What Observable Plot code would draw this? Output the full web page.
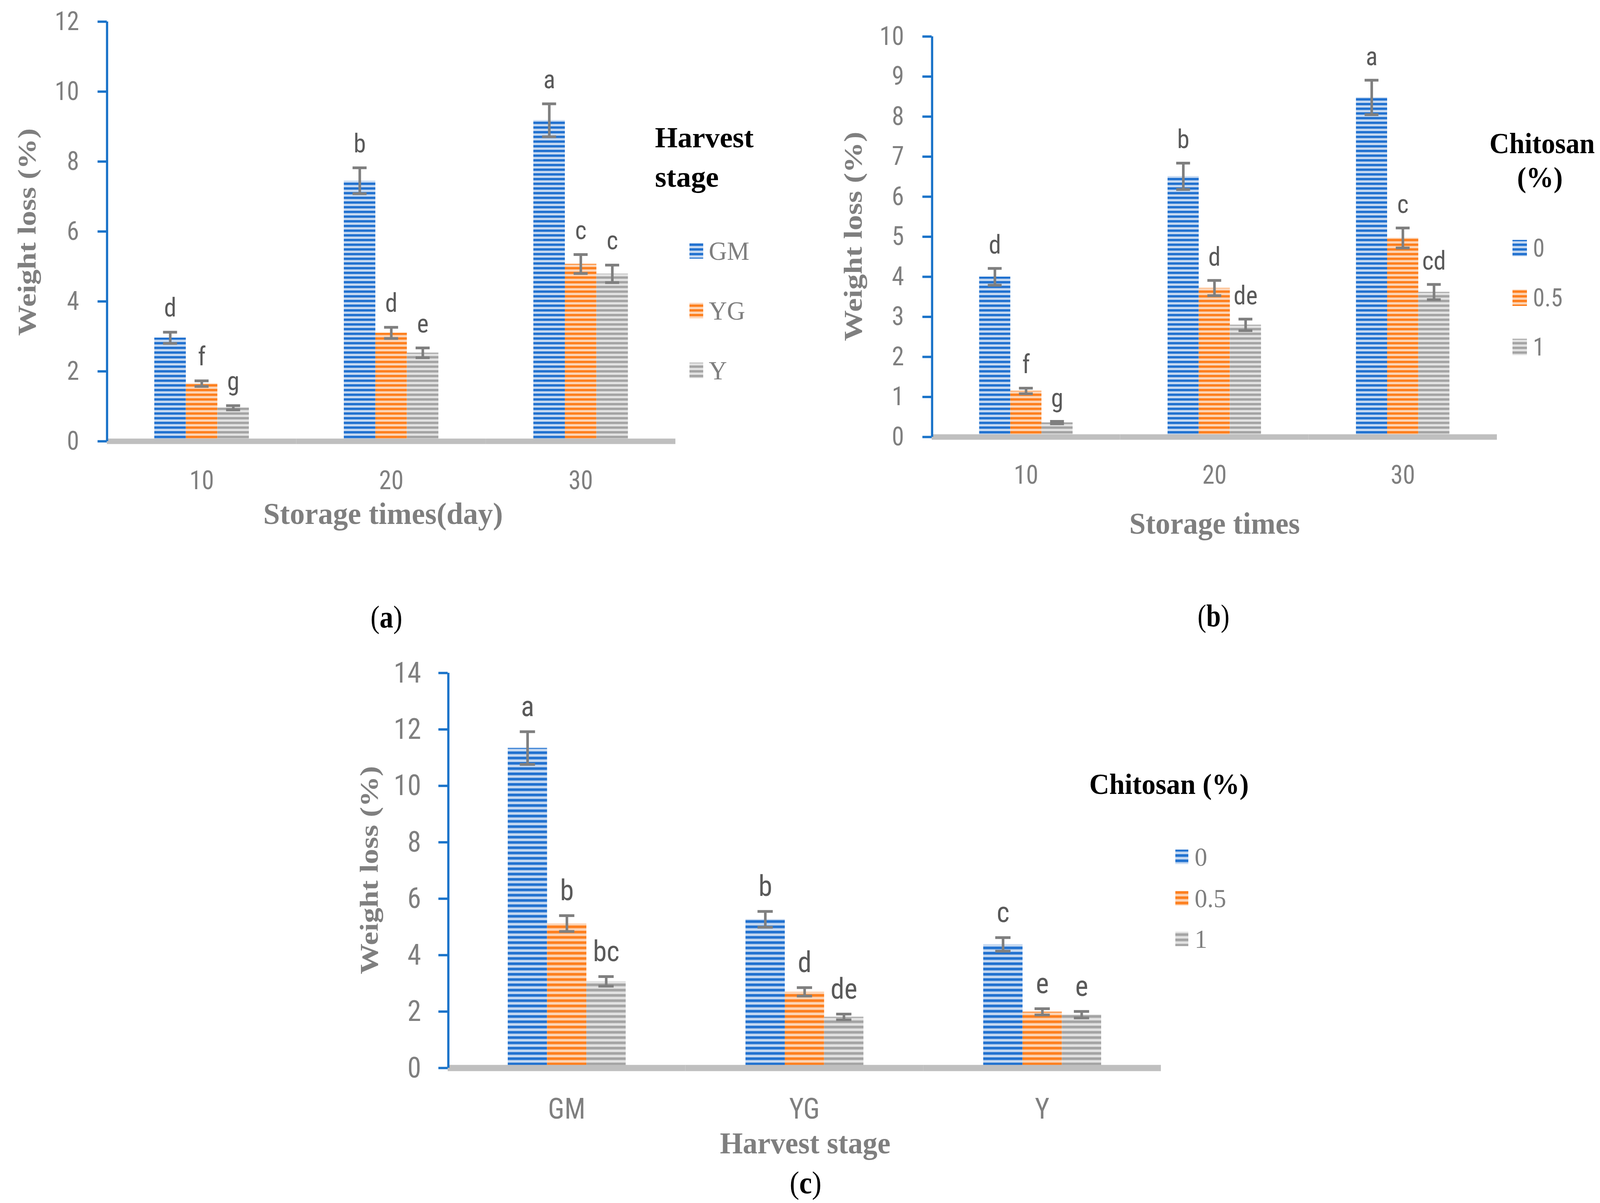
<!DOCTYPE html>
<html><head><meta charset="utf-8">
<script src="https://cdn.jsdelivr.net/npm/d3@7"></script>
<script src="https://cdn.jsdelivr.net/npm/@observablehq/plot@0.6"></script>
<style>
html,body{margin:0;padding:0;background:#fff;overflow:hidden;}
#wrap{position:relative;width:100vw;height:100vh;overflow:hidden;background:#fff;}
#page{position:absolute;left:0;top:0;width:4314px;height:3079px;background:#fff;transform-origin:0 0;}
#page > svg{position:absolute;}
</style></head><body><div id="wrap"><div id="page"></div></div>
<script>
// ---------- data ----------
const storageDays = ["10", "20", "30"];
const harvestStages = ["GM", "YG", "Y"];
const chitosanLevels = ["0", "0.5", "1"];

// (a) weight loss by storage time, per harvest stage
const a_GM = [2.96, 7.45, 9.18];
const a_GM_err = [0.16, 0.37, 0.47];
const a_GM_sig = ["d", "b", "a"];
const a_YG = [1.65, 3.10, 5.07];
const a_YG_err = [0.08, 0.16, 0.27];
const a_YG_sig = ["f", "d", "c"];
const a_Y = [0.96, 2.53, 4.79];
const a_Y_err = [0.06, 0.14, 0.25];
const a_Y_sig = ["g", "e", "c"];

// (b) weight loss by storage time, per chitosan level
const b_0 = [4.00, 6.51, 8.48];
const b_0_err = [0.21, 0.33, 0.43];
const b_0_sig = ["d", "b", "a"];
const b_05 = [1.15, 3.72, 4.97];
const b_05_err = [0.07, 0.19, 0.25];
const b_05_sig = ["f", "d", "c"];
const b_1 = [0.36, 2.80, 3.62];
const b_1_err = [0.03, 0.145, 0.19];
const b_1_sig = ["g", "de", "cd"];

// (c) weight loss by harvest stage, per chitosan level
const c_0 = [11.34, 5.27, 4.38];
const c_0_err = [0.58, 0.28, 0.24];
const c_0_sig = ["a", "b", "c"];
const c_05 = [5.12, 2.70, 1.99];
const c_05_err = [0.28, 0.15, 0.11];
const c_05_sig = ["b", "d", "e"];
const c_1 = [3.07, 1.81, 1.89];
const c_1_err = [0.17, 0.10, 0.115];
const c_1_sig = ["bc", "de", "e"];

const ticksA = [0, 2, 4, 6, 8, 10, 12];
const ticksB = [0, 1, 2, 3, 4, 5, 6, 7, 8, 9, 10];
const ticksC = [0, 2, 4, 6, 8, 10, 12, 14];

// ---------- styling ----------
const SANS = "'Liberation Sans Narrow','Arial Narrow','Roboto Condensed',Lato,sans-serif";
const SERIF = "'Liberation Serif','Times New Roman',serif";
const AXIS_BLUE = "#1a73c9";
const GRAY = "#7f7f7f";
const LABEL = "#595959";
const stripeColors = [
  {id: "blue", dark: "#1f70cf", light: "#c9dbf2"},
  {id: "orange", dark: "#fd7e1c", light: "#fdd6b8"},
  {id: "gray", dark: "#a3a3a3", light: "#e3e3e3"}
];

const page = document.getElementById("page");
// fit the 4314x3079 layout into the actual viewport
const sx = Math.min(1, window.innerWidth / 4314);
const sy = Math.min(1, window.innerHeight / 3079);
page.style.transform = `scale(${sx}, ${sy})`;

const overlay = d3.create("svg")
  .attr("width", 4314).attr("height", 3079)
  .style("left", "0px").style("top", "0px").style("z-index", 5)
  .style("pointer-events", "none");
const defs = overlay.append("defs");
function makePatterns(suffix, period) {
  for (const c of stripeColors) {
    const gid = `g-${c.id}${suffix}`;
    const g = defs.append("linearGradient").attr("id", gid)
      .attr("x1", 0).attr("y1", 0).attr("x2", 0).attr("y2", 1);
    [[0, c.dark], [0.36, c.dark], [0.55, c.light], [0.88, c.light], [1, c.dark]]
      .forEach(([o, col]) => g.append("stop").attr("offset", o).attr("stop-color", col));
    const p = defs.append("pattern").attr("id", `p-${c.id}${suffix}`)
      .attr("patternUnits", "userSpaceOnUse").attr("width", 50).attr("height", period);
    p.append("rect").attr("width", 50).attr("height", period).attr("fill", `url(#${gid})`);
  }
}
makePatterns("", 12);
makePatterns("c", 13.5);
page.appendChild(overlay.node());

function rows(groups, names, vals, errs, sigs) {
  const out = [];
  groups.forEach((g, i) => names.forEach((n, j) => {
    out.push({group: g, series: n, value: vals[j][i], err: errs[j][i], sig: sigs[j][i]});
  }));
  return out;
}

function panel(cfg) {
  const fw = cfg.width - cfg.ml - cfg.mr;
  const bw = fw / cfg.groups.length / 6;   // bar width: 3 bars fill half of each group band
  const inset = (bw - cfg.capW) / 2;
  const sfx = cfg.suffix || "";
  const svg = Plot.plot({
    width: cfg.width, height: cfg.height,
    marginLeft: cfg.ml, marginRight: cfg.mr, marginTop: cfg.mt, marginBottom: cfg.mb,
    style: {fontFamily: SANS, fontSize: cfg.fs + "px", background: "transparent", overflow: "visible"},
    fx: {domain: cfg.groups, padding: 0, axis: null},
    x: {domain: cfg.names, paddingInner: 0, paddingOuter: 1.5, axis: null},
    y: {domain: [0, cfg.ymax], axis: null},
    color: {domain: cfg.names, range: ["blue", "orange", "gray"].map(c => `url(#p-${c}${sfx})`)},
    marks: [
      Plot.barY(cfg.data, {fx: "group", x: "series", y: "value", fill: "series"}),
      Plot.ruleY([0], {stroke: "#bfbfbf", strokeWidth: cfg.baseW}),
      Plot.ruleX(cfg.data, {fx: "group", x: "series", y1: d => d.value - d.err, y2: d => d.value + d.err, stroke: GRAY, strokeWidth: 7}),
      Plot.tickY(cfg.data, {fx: "group", x: "series", y: d => d.value - d.err, stroke: GRAY, strokeWidth: 7, inset}),
      Plot.tickY(cfg.data, {fx: "group", x: "series", y: d => d.value + d.err, stroke: GRAY, strokeWidth: 7, inset}),
      Plot.text(cfg.data, {fx: "group", x: "series", y: d => d.value + d.err, text: "sig", dy: -cfg.sigGap, lineAnchor: "bottom", fontSize: cfg.fs, fill: LABEL}),
      // vertical axis line, in the first group only, at the left edge of the frame
      Plot.ruleX([cfg.groups[0]], {fx: d => d, x: () => cfg.names[0], y1: 0, y2: cfg.ymax, dx: -2 * bw, stroke: AXIS_BLUE, strokeWidth: 6}),
      Plot.axisY({ticks: cfg.yticks, tickFormat: d => String(d), tickSize: 25, tickPadding: cfg.tickPad, stroke: AXIS_BLUE, strokeWidth: 6, fill: GRAY, fontSize: cfg.fs, label: null}),
      Plot.axisFx({anchor: "bottom", tickSize: 0, tickPadding: cfg.xPad, fill: GRAY, fontSize: cfg.fs, label: null})
    ]
  });
  svg.style.left = cfg.left + "px";
  svg.style.top = cfg.top + "px";
  svg.style.maxWidth = "none";
  page.appendChild(svg);
}

panel({
  left: 0, top: 0, width: 1850, height: 1300, ml: 288, mr: 29, mt: 55, mb: 171,
  groups: storageDays, names: harvestStages, ymax: 12, yticks: ticksA, fs: 67, xPad: 75, tickPad: 50,
  capW: 38, baseW: 14, sigGap: 40,
  data: rows(storageDays, harvestStages, [a_GM, a_YG, a_Y], [a_GM_err, a_YG_err, a_Y_err], [a_GM_sig, a_YG_sig, a_Y_sig])
});
panel({
  left: 2200, top: 0, width: 1900, height: 1300, ml: 312, mr: 64, mt: 93, mb: 182,
  groups: storageDays, names: chitosanLevels, ymax: 10, yticks: ticksB, fs: 67, xPad: 72, tickPad: 50,
  capW: 38, baseW: 14, sigGap: 38,
  data: rows(storageDays, chitosanLevels, [b_0, b_05, b_1], [b_0_err, b_05_err, b_1_err], [b_0_sig, b_05_sig, b_1_sig])
});
panel({
  left: 1000, top: 1600, width: 2200, height: 1350, ml: 207, mr: 70, mt: 122, mb: 217,
  groups: harvestStages, names: chitosanLevels, ymax: 14, yticks: ticksC, fs: 75, xPad: 76, tickPad: 47,
  capW: 42, baseW: 16, sigGap: 40, suffix: "c",
  data: rows(harvestStages, chitosanLevels, [c_0, c_05, c_1], [c_0_err, c_05_err, c_1_err], [c_0_sig, c_05_sig, c_1_sig])
});

// ---------- overlay texts ----------
page.appendChild(overlay.node());
function txt(x, y, s, o) {
  const t = overlay.append("text")
    .attr("x", x).attr("y", y)
    .attr("font-family", o.family).attr("font-size", o.size)
    .attr("font-weight", o.weight || "normal")
    .attr("fill", o.fill || "#000")
    .attr("text-anchor", o.anchor || "start")
    .attr("dominant-baseline", o.baseline || "central")
    .text(s);
  if (o.length) t.attr("textLength", o.length).attr("lengthAdjust", "spacingAndGlyphs");
  if (o.rotate) t.attr("transform", `rotate(${o.rotate},${x},${y})`);
  return t;
}
const yTitle = {family: SERIF, size: 70, weight: "bold", fill: GRAY, anchor: "middle", rotate: -90, length: 531};
txt(72, 594, "Weight loss (%)", yTitle);
txt(2300, 605, "Weight loss (%)", {...yTitle, length: 536});
txt(995, 2227, "Weight loss (%)", {...yTitle, length: 533});

const xTitle = {family: SERIF, size: 79, weight: "bold", fill: GRAY, anchor: "middle"};
txt(1033, 1314, "Storage times(day)", {...xTitle, length: 646});
txt(3275, 1339, "Storage times", {...xTitle, length: 460});
txt(2171, 2925, "Harvest stage", {...xTitle, length: 460});

const legTitle = {family: SERIF, size: 73, weight: "bold", fill: "#000", baseline: "alphabetic"};
txt(1766, 377, "Harvest", {...legTitle, length: 266});
txt(1766, 478, "stage", {...legTitle, length: 172});
txt(4158, 367, "Chitosan", {...legTitle, anchor: "middle", baseline: "central", size: 74, length: 284});
txt(4152, 454, "(%)", {...legTitle, anchor: "middle", baseline: "central", size: 74});
txt(2937, 2007, "Chitosan (%)", {...legTitle, baseline: "central", size: 75, length: 430});

function legend(names, suffix, x, ys, w, h, tx, o) {
  names.forEach((n, i) => {
    const c = stripeColors[i].id;
    overlay.append("rect").attr("x", x).attr("y", ys[i] - h / 2).attr("width", w).attr("height", h)
      .attr("fill", `url(#p-${c}${suffix})`);
    txt(tx, ys[i], n, o);
  });
}
legend(harvestStages, "", 1859, [642, 795, 948], 37, 40, 1911, {family: SERIF, size: 68, fill: GRAY});
legend(chitosanLevels, "", 4078, [635, 762, 888], 39, 42, 4133, {family: SANS, size: 64, fill: GRAY});
legend(chitosanLevels, "c", 3169, [2193, 2299, 2403], 35, 37, 3221, {family: SERIF, size: 68, fill: GRAY});

function caption(x, y, letter) {
  const t = overlay.append("text").attr("x", x).attr("y", y)
    .attr("font-family", SERIF).attr("font-size", 80).attr("fill", "#000")
    .attr("text-anchor", "middle").attr("dominant-baseline", "central")
    .attr("textLength", 86).attr("lengthAdjust", "spacingAndGlyphs");
  t.append("tspan").text("(");
  t.append("tspan").attr("font-weight", "bold").text(letter);
  t.append("tspan").text(")");
}
caption(1042, 1578, "a");
caption(3272, 1575, "b");
caption(2172, 3026, "c");
</script>
</body></html>
